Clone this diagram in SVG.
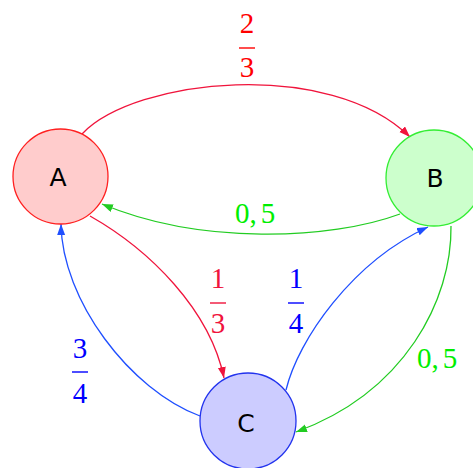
<svg xmlns="http://www.w3.org/2000/svg" width="473" height="468" viewBox="0 0 473 468">
<style>
.node circle{stroke-width:1.3}
.nl{font-family:"DejaVu Sans","Liberation Sans",sans-serif;font-size:25px;fill:#000;text-anchor:middle}
.lab{font-family:"Liberation Serif","DejaVu Serif",serif;font-size:29px;text-anchor:middle}
.edge{fill:none;stroke-width:1.3}
.bar{stroke-width:1.4}
</style>
<defs>
<marker id="ar" markerUnits="userSpaceOnUse" markerWidth="12" markerHeight="10" refX="11" refY="4" orient="auto">
<path d="M0,0 L11,4 L0,8 z" fill="#f0143c"/>
</marker>
<marker id="ag" markerUnits="userSpaceOnUse" markerWidth="12" markerHeight="10" refX="11" refY="4" orient="auto">
<path d="M0,0 L11,4 L0,8 z" fill="#22cc22"/>
</marker>
<marker id="ab" markerUnits="userSpaceOnUse" markerWidth="12" markerHeight="10" refX="11" refY="4" orient="auto">
<path d="M0,0 L11,4 L0,8 z" fill="#1f4fff"/>
</marker>
</defs>
<g id="edges">
<path class="edge" stroke="#f0143c" d="M82,134 C135,78 330,58 410,137" marker-end="url(#ar)"/>
<path class="edge" stroke="#22cc22" d="M400,214 C330,240 200,245 102,204" marker-end="url(#ag)"/>
<path class="edge" stroke="#f0143c" d="M90,216 C150,250 210,310 224,378" marker-end="url(#ar)"/>
<path class="edge" stroke="#1f4fff" d="M286,390 C298,340 352,262 428,227" marker-end="url(#ab)"/>
<path class="edge" stroke="#1f4fff" d="M200,416 C130,390 62,300 61,224" marker-end="url(#ab)"/>
<path class="edge" stroke="#22cc22" d="M451,226 C452,300 405,392 296,432" marker-end="url(#ag)"/>
<g id="l23" fill="#ff0000" stroke="#ff0000">
<text class="lab" x="247" y="33" stroke="none">2</text>
<line class="bar" x1="239" y1="48" x2="255" y2="48"/>
<text class="lab" x="247" y="77" stroke="none">3</text>
</g>
<g id="l05a" fill="#00ee00">
<text class="lab" x="255" y="223">0,<tspan dx="4">5</tspan></text>
</g>
<g id="l13" fill="#f0143c" stroke="#f0143c">
<text class="lab" x="218" y="288" stroke="none">1</text>
<line class="bar" x1="210" y1="303" x2="226" y2="303"/>
<text class="lab" x="218" y="333" stroke="none">3</text>
</g>
<g id="l14" fill="#0000ff" stroke="#0000ff">
<text class="lab" x="296" y="288" stroke="none">1</text>
<line class="bar" x1="288" y1="303" x2="304" y2="303"/>
<text class="lab" x="296" y="333" stroke="none">4</text>
</g>
<g id="l34" fill="#0000ff" stroke="#0000ff">
<text class="lab" x="80" y="358" stroke="none">3</text>
<line class="bar" x1="72" y1="372" x2="88" y2="372"/>
<text class="lab" x="80" y="403" stroke="none">4</text>
</g>
<g id="l05b" fill="#00ee00">
<text class="lab" x="437" y="368">0,<tspan dx="4">5</tspan></text>
</g>
</g>
<g id="A" class="node">
<circle cx="60.5" cy="176.5" r="47.5" fill="#ffcccc" stroke="#ff2020"/>
<text class="nl" x="58" y="186">A</text>
</g>
<g id="B" class="node">
<circle cx="434" cy="178" r="48" fill="#ccffcc" stroke="#33ee33"/>
<text class="nl" x="435" y="187">B</text>
</g>
<g id="C" class="node">
<circle cx="248" cy="421" r="48" fill="#ccccff" stroke="#2233ee"/>
<text class="nl" x="246" y="432">C</text>
</g>
</svg>
